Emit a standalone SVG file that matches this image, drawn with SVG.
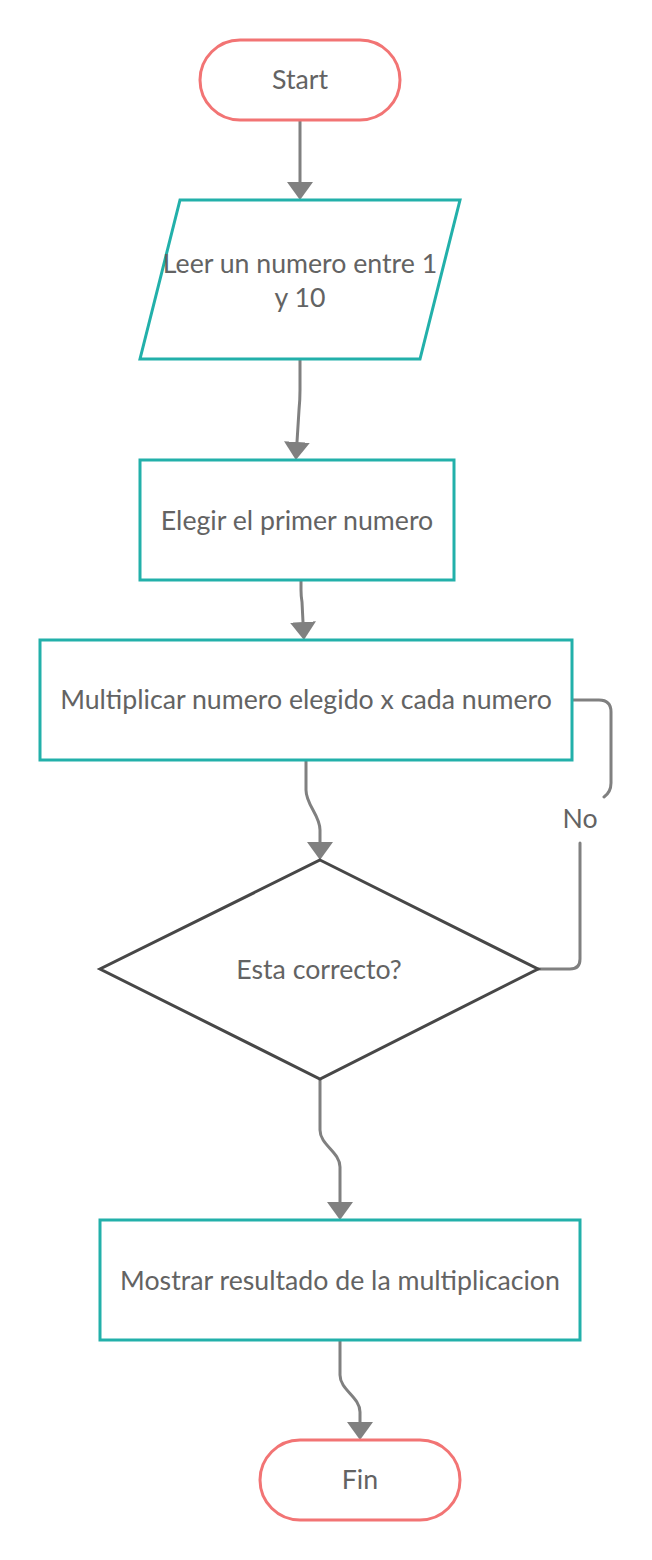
<svg xmlns="http://www.w3.org/2000/svg" width="652" height="1560" viewBox="0 0 652 1560">
<defs>
<style>
.term{fill:#fff;stroke:#f27474;stroke-width:3}
.proc{fill:#fff;stroke:#22b0aa;stroke-width:3}
.dec{fill:#fff;stroke:#474747;stroke-width:3}
.conn{fill:none;stroke:#808080;stroke-width:3;stroke-linecap:round}
.lbl{font-family:Lato,"Liberation Sans",sans-serif;font-size:26.7px;fill:#636363;text-anchor:middle;dominant-baseline:central}
</style>
<marker id="arr" viewBox="0 0 18 26" refX="0" refY="13" markerWidth="18" markerHeight="26" markerUnits="userSpaceOnUse" orient="auto">
<path d="M0,0 L18,13 L0,26 Z" fill="#808080"/>
</marker>
</defs>
<rect width="652" height="1560" fill="#fff"/>
<g id="connectors">
<path class="conn" d="M300,121 L300,182" marker-end="url(#arr)"/>
<path class="conn" d="M300,360 L300,390 Q300,400 299,410 L297,442" marker-end="url(#arr)"/>
<path class="conn" d="M301,577 L301,590 Q301,596 302,602 L303,622" marker-end="url(#arr)"/>
<path class="conn" d="M306,761 L306,790 C306,805 320,815 320,830 L320,842" marker-end="url(#arr)"/>
<path class="conn" d="M320,1080 L320,1130 C320,1145 340,1152 340,1167 L340,1202" marker-end="url(#arr)"/>
<path class="conn" d="M340,1341 L340,1375 C340,1390 360,1397 360,1412 L360,1422" marker-end="url(#arr)"/>
<path class="conn" d="M538,969 L570,969 Q580,969 580,959 L580,843"/>
<path class="conn" d="M604,797 Q611,792 611,783 L611,712 Q611,700 599,700 L573,700"/>
</g>
<g id="start">
<rect class="term" x="200" y="40" width="200" height="80" rx="40"/>
<text class="lbl" x="300" y="79">Start</text>
</g>
<g id="leer">
<polygon class="proc" points="180,200 460,200 420,359 140,359"/>
<text class="lbl" x="300" y="263">Leer un numero entre 1</text>
<text class="lbl" x="300" y="297">y 10</text>
</g>
<g id="elegir">
<rect class="proc" x="140" y="460" width="314" height="120"/>
<text class="lbl" x="297" y="520">Elegir el primer numero</text>
</g>
<g id="multiplicar">
<rect class="proc" x="40" y="640" width="532" height="120"/>
<text class="lbl" x="306" y="699">Multiplicar numero elegido x cada numero</text>
</g>
<g id="decision">
<polygon class="dec" points="320,860 538,969 320,1079 100,969"/>
<text class="lbl" x="319" y="969">Esta correcto?</text>
</g>
<g id="no-label">
<text class="lbl" x="580" y="818">No</text>
</g>
<g id="mostrar">
<rect class="proc" x="100" y="1220" width="480" height="120"/>
<text class="lbl" x="340" y="1280">Mostrar resultado de la multiplicacion</text>
</g>
<g id="fin">
<rect class="term" x="260" y="1440" width="200" height="80" rx="40"/>
<text class="lbl" x="360" y="1479">Fin</text>
</g>
</svg>
